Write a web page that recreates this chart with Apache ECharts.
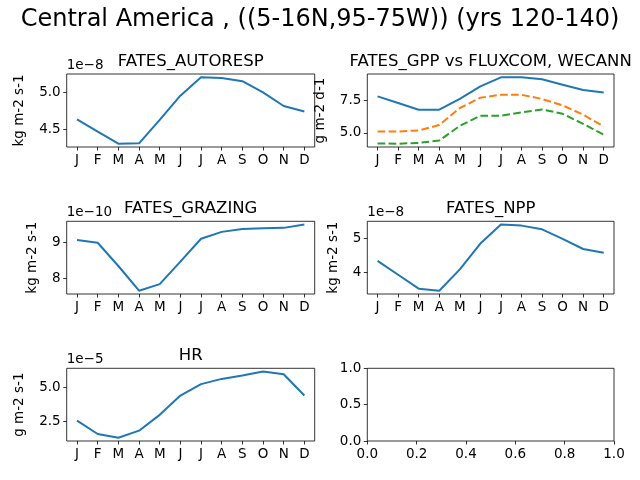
<!DOCTYPE html>
<html>
  <head>
    <meta charset="utf-8" />
    <title>Central America monthly fluxes</title>
    <script src="https://cdn.jsdelivr.net/npm/echarts@6.0.0/dist/echarts.min.js"></script>
    <style>
      html, body { margin: 0; padding: 0; background: #fff; }
    </style>
  </head>
  <body>
    <div id="main" style="width: 640px;height:480px;"></div>

    <script type="text/javascript">
      // month letters on every x axis
      var months = ['J', 'F', 'M', 'A', 'M', 'J', 'J', 'A', 'S', 'O', 'N', 'D'];

      // values as shown on each axis (axis multiplier in the offset text)
      var autoresp = [4.635, 4.468, 4.305, 4.31, 4.626, 4.954, 5.203, 5.195, 5.15, 5.0, 4.815, 4.74];   // x1e-8
      var gppFates = [7.78, 7.27, 6.76, 6.76, 7.58, 8.54, 9.23, 9.23, 9.08, 8.67, 8.26, 8.08];
      var gppFluxcom = [5.10, 5.10, 5.18, 5.59, 6.89, 7.68, 7.90, 7.90, 7.58, 7.09, 6.38, 5.48];
      var gppWecann = [4.18, 4.17, 4.23, 4.41, 5.53, 6.30, 6.30, 6.55, 6.78, 6.45, 5.68, 4.85];
      var grazing = [9.063, 8.99, 8.35, 7.67, 7.85, 8.47, 9.10, 9.29, 9.37, 9.39, 9.40, 9.49];        // x1e-10
      var npp = [4.34, 3.93, 3.52, 3.46, 4.09, 4.85, 5.41, 5.38, 5.27, 4.99, 4.69, 4.58];             // x1e-8
      var hr = [2.57, 1.60, 1.33, 1.84, 2.99, 4.39, 5.22, 5.60, 5.84, 6.13, 5.94, 4.39];              // x1e-5

      // tick labels
      var ticksAutoresp = [4.5, 5.0];
      var ticksGpp = [5.0, 7.5];
      var ticksGrazing = [8, 9];
      var ticksNpp = [4, 5];
      var ticksHr = [2.5, 5.0];

      var font = 'DejaVu Sans';
      var C0 = '#1f77b4', C1 = '#ff7f0e', C2 = '#2ca02c';

      // matplotlib style autoscale: data range plus 5% each side
      function lim(arrs) {
        var lo = Infinity, hi = -Infinity;
        arrs.forEach(function (a) {
          a.forEach(function (v) { lo = Math.min(lo, v); hi = Math.max(hi, v); });
        });
        var m = (hi - lo) * 0.05;
        return [lo - m, hi + m];
      }

      var panels = [
        { left: 66.7, top: 74, width: 248, height: 73 },
        { left: 367.3, top: 74, width: 246.7, height: 73 },
        { left: 66.7, top: 221.3, width: 248, height: 72.7 },
        { left: 367.3, top: 221.3, width: 246.7, height: 72.7 },
        { left: 66.7, top: 368.3, width: 248, height: 72.7 },
        { left: 367.3, top: 368.3, width: 246.7, height: 72.7 }
      ];

      var tickStyle = { show: true, inside: false, length: 3.5, lineStyle: { color: '#000', width: 0.8 } };
      var labelStyle = { color: '#000', fontFamily: font, fontSize: 13.5, margin: 6 };

      function catAxis(i) {
        return {
          type: 'category', gridIndex: i, data: months, boundaryGap: true,
          axisLine: { show: false },
          axisTick: Object.assign({ alignWithLabel: true, interval: 0 }, tickStyle),
          axisLabel: Object.assign({ interval: 0 }, labelStyle),
          splitLine: { show: false }
        };
      }

      function valAxis(i, arrs, ticks, digits, name, gap) {
        var l = lim(arrs);
        return {
          type: 'value', gridIndex: i, min: l[0], max: l[1],
          name: name, nameLocation: 'middle', nameGap: gap,
          nameTextStyle: { color: '#000', fontFamily: font, fontSize: 13.5 },
          axisLine: { show: false },
          axisTick: Object.assign({ customValues: ticks }, tickStyle),
          axisLabel: Object.assign({
            customValues: ticks,
            formatter: function (v) { return v.toFixed(digits); }
          }, labelStyle),
          splitLine: { show: false }
        };
      }

      function line(i, data, color, dashed) {
        return {
          type: 'line', xAxisIndex: i, yAxisIndex: i, data: data,
          symbol: 'none', silent: true,
          lineStyle: { color: color, width: 2, type: dashed ? [7.7, 3.3] : 'solid' }
        };
      }

      function subTitle(text, p) {
        return {
          text: text, left: p.left + p.width / 2, top: p.top - 21, textAlign: 'center', padding: 0,
          textStyle: { color: '#000', fontFamily: font, fontSize: 16.5, fontWeight: 'normal' }
        };
      }

      function offsetText(text, p) {
        return {
          text: text, left: p.left, top: p.top - 16, padding: 0,
          textStyle: { color: '#000', fontFamily: font, fontSize: 13.5, fontWeight: 'normal' }
        };
      }

      var option = {
        animation: false,
        backgroundColor: '#fff',
        title: [
          {
            text: 'Central America , ((5-16N,95-75W)) (yrs 120-140)',
            left: 320, top: 8, textAlign: 'center', padding: 0,
            textStyle: { color: '#000', fontFamily: font, fontSize: 24, fontWeight: 'normal' }
          },
          subTitle('FATES_AUTORESP', panels[0]),
          subTitle('FATES_GPP vs FLUXCOM, WECANN', panels[1]),
          subTitle('FATES_GRAZING', panels[2]),
          subTitle('FATES_NPP', panels[3]),
          subTitle('HR', panels[4]),
          offsetText('1e\u22128', panels[0]),
          offsetText('1e\u221210', panels[2]),
          offsetText('1e\u22128', panels[3]),
          offsetText('1e\u22125', panels[4])
        ],
        grid: panels.map(function (p) {
          return {
            left: p.left, top: p.top, width: p.width, height: p.height,
            show: true, borderColor: '#000', borderWidth: 0.8, backgroundColor: 'transparent'
          };
        }),
        xAxis: [
          catAxis(0), catAxis(1), catAxis(2), catAxis(3), catAxis(4),
          {
            type: 'value', gridIndex: 5, min: 0, max: 1, interval: 0.2,
            axisLine: { show: false }, axisTick: tickStyle,
            axisLabel: Object.assign({ formatter: function (v) { return v.toFixed(1); } }, labelStyle),
            splitLine: { show: false }
          }
        ],
        yAxis: [
          valAxis(0, [autoresp], ticksAutoresp, 1, 'kg m-2 s-1', 40),
          valAxis(1, [gppFates, gppFluxcom, gppWecann], ticksGpp, 1, 'g m-2 d-1', 40),
          valAxis(2, [grazing], ticksGrazing, 0, 'kg m-2 s-1', 27),
          valAxis(3, [npp], ticksNpp, 0, 'kg m-2 s-1', 27),
          valAxis(4, [hr], ticksHr, 1, 'g m-2 s-1', 40),
          {
            type: 'value', gridIndex: 5, min: 0, max: 1, interval: 0.5,
            axisLine: { show: false }, axisTick: tickStyle,
            axisLabel: Object.assign({ formatter: function (v) { return v.toFixed(1); } }, labelStyle),
            splitLine: { show: false }
          }
        ],
        series: [
          line(0, autoresp, C0),
          line(1, gppFates, C0),
          line(1, gppFluxcom, C1, true),
          line(1, gppWecann, C2, true),
          line(2, grazing, C0),
          line(3, npp, C0),
          line(4, hr, C0),
          { type: 'line', xAxisIndex: 5, yAxisIndex: 5, data: [], symbol: 'none' }
        ]
      };

      var chart = echarts.init(document.getElementById('main'));
      chart.setOption(option);
    </script>
  </body>
</html>
